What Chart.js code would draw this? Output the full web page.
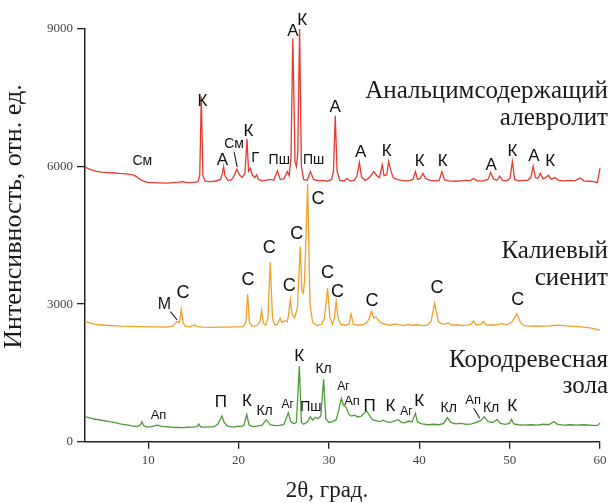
<!DOCTYPE html>
<html><head><meta charset="utf-8">
<script src="https://cdn.jsdelivr.net/npm/chart.js@4"></script>
<style>html,body{margin:0;padding:0;background:#fff}canvas{display:block}</style>
</head><body><canvas id="c" width="614" height="503"></canvas>
<script>
const xTicks = [10, 20, 30, 40, 50, 60];
const yTicks = [0, 3000, 6000, 9000];
const seriesNames = ["Анальцимсодержащий алевролит", "Калиевый сиенит", "Кородревесная зола"];

const redSeries = [[3.0,5990],[3.3,5960],[3.7,5930],[4.2,5900],[4.8,5880],[5.5,5870],[6.2,5860],[6.8,5850],[7.3,5845],[7.8,5835],[8.3,5820],[8.7,5780],[9.1,5720],[9.5,5680],[9.9,5655],[10.5,5650],[11.2,5645],[12.0,5640],[12.8,5650],[13.4,5660],[13.8,5670],[14.3,5650],[15.0,5655],[15.5,5670],[15.7,5800],[15.87,7530],[16.05,5800],[16.3,5680],[16.8,5670],[17.4,5680],[18.0,5720],[18.2,5850],[18.34,6000],[18.5,5800],[18.8,5700],[19.2,5710],[19.5,5800],[19.8,5940],[20.1,5820],[20.4,5760],[20.7,5850],[20.93,6600],[21.1,5900],[21.3,5960],[21.5,5820],[21.8,5760],[22.0,5820],[22.2,5720],[22.6,5690],[23.0,5700],[23.5,5720],[23.9,5700],[24.3,5910],[24.6,5720],[25.0,5730],[25.4,5890],[25.6,5800],[25.8,6200],[26.0,8800],[26.25,6100],[26.4,6000],[26.55,6300],[26.75,9000],[26.95,6000],[27.2,5720],[27.6,5700],[27.94,5890],[28.3,5720],[28.8,5690],[29.3,5700],[29.8,5680],[30.3,5720],[30.5,5900],[30.7,7110],[30.9,5900],[31.2,5700],[31.7,5690],[32.0,5740],[32.3,5690],[32.8,5700],[33.1,5800],[33.37,6090],[33.6,5780],[34.0,5700],[34.5,5760],[34.95,5890],[35.3,5800],[35.6,5760],[35.9,6040],[36.1,5800],[36.4,5820],[36.6,6110],[36.8,5950],[37.1,5760],[37.5,5720],[38.0,5700],[38.5,5690],[39.0,5700],[39.3,5720],[39.57,5890],[39.8,5720],[40.1,5740],[40.4,5850],[40.7,5740],[41.2,5700],[41.8,5690],[42.2,5700],[42.5,5890],[42.8,5710],[43.3,5690],[44.0,5680],[44.6,5690],[45.2,5700],[45.6,5690],[46.0,5740],[46.4,5690],[47.0,5690],[47.6,5720],[47.9,5870],[48.2,5730],[48.6,5700],[48.9,5790],[49.2,5700],[49.7,5690],[50.05,5750],[50.3,6110],[50.55,5720],[51.0,5690],[51.6,5700],[52.0,5700],[52.35,5760],[52.6,6010],[52.85,5760],[53.1,5740],[53.4,5850],[53.7,5730],[54.0,5760],[54.3,5810],[54.6,5720],[55.0,5760],[55.4,5700],[56.0,5690],[56.7,5700],[57.2,5690],[57.8,5750],[58.2,5690],[58.8,5680],[59.3,5670],[59.7,5650],[60.0,5965]];

const orangeSeries = [[3.0,2620],[3.4,2600],[3.9,2570],[4.5,2550],[5.2,2540],[6.0,2530],[7.0,2520],[8.0,2515],[9.0,2510],[10.0,2505],[11.0,2505],[12.0,2500],[12.7,2520],[13.2,2620],[13.45,2600],[13.65,2890],[13.85,2600],[14.1,2520],[14.6,2505],[15.1,2550],[15.35,2510],[16.0,2500],[17.0,2495],[18.0,2500],[19.0,2500],[19.8,2505],[20.5,2510],[20.8,2600],[21.0,3220],[21.2,2600],[21.5,2520],[22.0,2530],[22.35,2600],[22.55,2860],[22.75,2580],[23.0,2540],[23.25,2700],[23.5,3915],[23.75,2700],[24.0,2540],[24.3,2560],[24.6,2690],[24.8,2600],[25.1,2640],[25.4,2620],[25.55,2800],[25.72,3090],[25.9,2800],[26.2,2700],[26.5,2900],[26.83,4255],[27.0,3300],[27.15,3240],[27.3,3500],[27.64,5620],[27.9,3000],[28.2,2600],[28.7,2530],[29.2,2560],[29.5,2700],[29.85,3350],[30.1,2700],[30.4,2560],[30.6,2700],[30.8,3055],[31.0,2700],[31.3,2560],[31.8,2540],[32.2,2560],[32.45,2785],[32.7,2560],[33.2,2540],[33.7,2550],[34.2,2600],[34.5,2700],[34.7,2850],[34.95,2700],[35.2,2720],[35.5,2640],[35.9,2580],[36.3,2560],[36.8,2540],[37.3,2570],[37.8,2550],[38.3,2530],[38.8,2560],[39.2,2540],[39.8,2550],[40.3,2530],[40.9,2540],[41.3,2620],[41.7,3020],[42.1,2620],[42.4,2580],[42.8,2560],[43.2,2590],[43.6,2540],[44.2,2550],[44.8,2530],[45.3,2540],[45.7,2560],[46.0,2630],[46.3,2550],[46.8,2560],[47.1,2620],[47.4,2550],[48.0,2540],[48.6,2550],[49.2,2580],[49.6,2550],[50.2,2600],[50.8,2785],[51.2,2600],[51.6,2530],[52.2,2520],[53.0,2525],[53.8,2520],[54.5,2525],[55.3,2540],[56.0,2530],[56.8,2520],[57.5,2510],[58.2,2500],[58.9,2480],[59.4,2460],[59.7,2440],[60.0,2440]];

const greenSeries = [[3.0,545],[3.5,520],[4.0,495],[4.7,473],[5.5,445],[6.2,420],[6.9,390],[7.6,365],[8.2,345],[8.75,330],[9.1,360],[9.3,436],[9.5,350],[9.9,320],[10.4,330],[11.0,362],[11.5,335],[12.2,325],[12.8,315],[13.4,310],[13.9,305],[14.4,315],[15.0,320],[15.4,330],[15.6,385],[15.8,320],[16.3,320],[16.8,325],[17.3,330],[17.7,380],[17.95,480],[18.15,560],[18.4,420],[18.7,350],[19.0,330],[19.5,320],[19.9,340],[20.3,330],[20.6,360],[20.9,597],[21.15,370],[21.5,330],[22.0,340],[22.6,360],[23.07,475],[23.5,370],[24.0,350],[24.5,355],[25.0,370],[25.3,520],[25.5,633],[25.75,450],[26.1,390],[26.4,420],[26.72,1652],[26.95,420],[27.2,380],[27.6,430],[27.94,545],[28.2,470],[28.5,530],[28.8,500],[29.1,560],[29.41,1361],[29.65,500],[30.0,420],[30.4,440],[30.8,480],[31.1,700],[31.37,946],[31.6,800],[31.9,750],[32.2,600],[32.5,560],[32.8,580],[33.2,540],[33.6,560],[33.9,620],[34.14,676],[34.4,600],[34.8,480],[35.2,460],[35.6,440],[36.05,470],[36.4,430],[36.8,420],[37.2,450],[37.7,480],[38.0,420],[38.4,410],[38.8,450],[39.2,430],[39.57,619],[39.8,430],[40.3,390],[41.0,370],[41.6,380],[42.2,370],[42.7,400],[43.1,524],[43.5,420],[44.0,390],[44.6,400],[45.2,380],[45.8,390],[46.3,420],[46.8,460],[47.2,545],[47.6,440],[48.1,420],[48.6,480],[49.0,400],[49.5,380],[50.0,400],[50.2,488],[50.45,390],[51.0,370],[51.7,360],[52.4,370],[53.0,360],[53.7,380],[54.3,370],[54.9,436],[55.3,380],[56.0,360],[56.7,370],[57.4,360],[58.2,370],[58.9,360],[59.5,350],[59.8,364],[60.0,410]];

// peak annotations: [2θ, intensity, text]
const redPeaks = [[9.34,6125,"См"],[16.0,7415,"К"],[18.2,6145,"А"],[19.5,6490,"См"],[21.1,6760,"К"],[21.85,6190,"Г"],[24.5,6145,"Пш"],[26.0,8960,"А"],[27.05,9200,"К"],[28.3,6145,"Пш"],[30.7,7300,"А"],[33.5,6306,"А"],[36.4,6330,"К"],[40.05,6125,"К"],[42.6,6125,"К"],[47.95,6038,"А"],[50.3,6330,"К"],[52.7,6220,"А"],[54.5,6110,"К"]];
const orangePeaks = [[11.8,2983,"М"],[13.85,3238,"С"],[21.05,3528,"С"],[23.4,4220,"С"],[25.6,3398,"С"],[26.45,4532,"С"],[28.8,5289,"С"],[29.85,3674,"С"],[30.95,3274,"С"],[34.77,3070,"С"],[41.97,3347,"С"],[50.9,3092,"С"]];
const greenPeaks = [[11.14,567,"Ап"],[18.05,851,"П"],[20.93,888,"К"],[22.88,676,"Кл"],[25.43,800,"Аг"],[26.72,1855,"К"],[28.0,750,"Пш"],[29.41,1580,"Кл"],[31.6,1200,"Аг"],[32.55,888,"Ап"],[34.5,779,"П"],[36.8,779,"К"],[38.57,655,"Аг"],[40.0,873,"К"],[43.26,742,"Кл"],[45.96,895,"Ап"],[47.95,742,"Кл"],[50.28,779,"К"]];
// leader strokes: [2θ1, I1, 2θ2, I2]
const leaders = [[19.5,6315,19.85,5990],[12.45,2837,13.18,2655],[46.02,729,46.69,511]];
// sample names, one entry per text line: [text, intensity at baseline]
const nameLines = [["Анальцимсодержащий",7493],["алевролит",6911],["Калиевый",4002],["сиенит",3420],["Кородревесная",1637],["зола",1056]];

const labelSize = {"К":17,"А":17,"С":18,"П":17,"М":16,"Г":15,"См":14,"Пш":14,"Кл":14,"Ап":13,"Аг":12};

const annot = {
  id:'annot',
  afterDatasetsDraw(chart){
    const ctx = chart.ctx, xs = chart.scales.x, ys = chart.scales.y;
    ctx.save();
    ctx.fillStyle = '#111';
    ctx.textAlign = 'center';
    ctx.textBaseline = 'middle';
    [redPeaks, orangePeaks, greenPeaks].forEach(list => list.forEach(([t,v,s]) => {
      ctx.font = (labelSize[s]||15) + 'px "Liberation Sans", Arial, sans-serif';
      ctx.fillText(s, xs.getPixelForValue(t), ys.getPixelForValue(v));
    }));
    ctx.strokeStyle = '#222'; ctx.lineWidth = 1.1;
    leaders.forEach(([a,b,c,d]) => {
      ctx.beginPath();
      ctx.moveTo(xs.getPixelForValue(a), ys.getPixelForValue(b));
      ctx.lineTo(xs.getPixelForValue(c), ys.getPixelForValue(d));
      ctx.stroke();
    });
    ctx.textAlign = 'right';
    ctx.textBaseline = 'alphabetic';
    ctx.fillStyle = '#1a1a1a';
    ctx.font = '25px "Liberation Serif", "Times New Roman", serif';
    nameLines.forEach(([s,v]) => ctx.fillText(s, chart.chartArea.right + 8, ys.getPixelForValue(v)));
    // axis titles
    ctx.textAlign = 'center';
    ctx.font = '23px "Liberation Serif", "Times New Roman", serif';
    ctx.fillText('2θ, град.', 327, 497);
    ctx.font = '26px "Liberation Serif", "Times New Roman", serif';
    ctx.translate(21, 216.5);
    ctx.rotate(-Math.PI/2);
    ctx.fillText('Интенсивность, отн. ед.', 0, 0);
    ctx.restore();
  }
};

const toPts = a => a.map(([x,y]) => ({x, y}));
new Chart(document.getElementById('c'), {
  type: 'line',
  data: { datasets: [
    { label: seriesNames[0], data: toPts(redSeries), borderColor: '#e8392f', borderWidth: 1.3, pointRadius: 0, tension: 0, clip: false },
    { label: seriesNames[1], data: toPts(orangeSeries), borderColor: '#f2a02a', borderWidth: 1.3, pointRadius: 0, tension: 0, clip: false },
    { label: seriesNames[2], data: toPts(greenSeries), borderColor: '#4f9b3a', borderWidth: 1.3, pointRadius: 0, tension: 0, clip: false }
  ]},
  options: {
    responsive: false, animation: false,
    layout: { padding: { top: 29, right: 14, left: 0, bottom: 0 } },
    plugins: { legend: { display: false }, tooltip: { enabled: false } },
    scales: {
      x: {
        type: 'linear', min: 3, max: 60,
        afterBuildTicks: s => { s.ticks = xTicks.map(v => ({value: v})); },
        afterFit: s => { s.height = 61.3; },
        border: { display: true, color: '#222', width: 1.5 },
        grid: { drawOnChartArea: false, drawTicks: true, tickLength: 7, color: '#222', lineWidth: 1.3 },
        ticks: { padding: 4, color: '#444', font: { family: '"Liberation Serif", serif', size: 13 }, maxRotation: 0, callback: v => String(v) }
      },
      y: {
        min: 0, max: 9000,
        afterBuildTicks: s => { s.ticks = yTicks.map(v => ({value: v})); },
        afterFit: s => { s.width = 85; },
        border: { display: true, color: '#222', width: 1.5 },
        grid: { drawOnChartArea: false, drawTicks: true, tickLength: 8, color: '#222', lineWidth: 1.3 },
        ticks: { padding: 4, color: '#444', font: { family: '"Liberation Serif", serif', size: 13 }, callback: v => String(v) }
      }
    }
  },
  plugins: [annot]
});
</script></body></html>
